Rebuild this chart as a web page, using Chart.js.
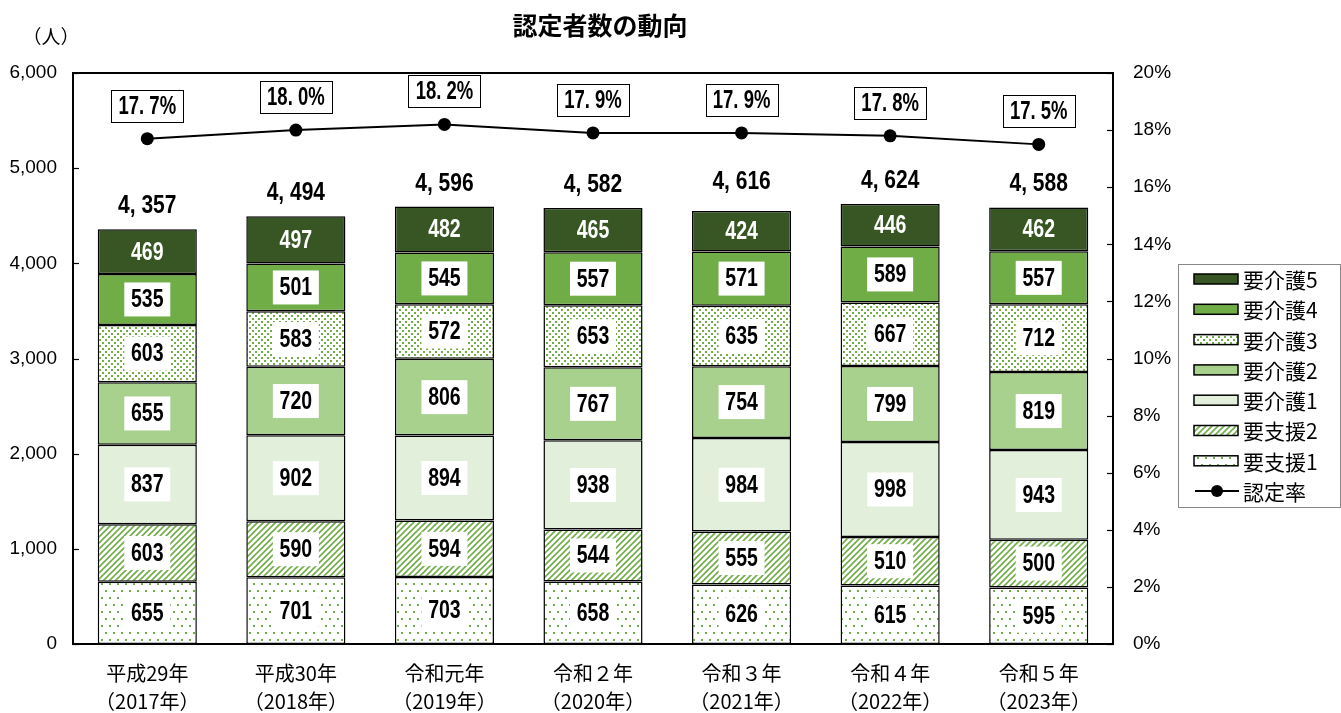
<!DOCTYPE html>
<html>
<head>
<meta charset="utf-8">
<script src="https://cdn.jsdelivr.net/npm/chart.js@4.4.1/dist/chart.umd.min.js"></script>
<style>
  html, body { margin: 0; padding: 0; background: #fff; }
  #wrap { width: 1341px; height: 713px; position: relative; }
</style>
</head>
<body>
<div id="wrap"><canvas id="chart"></canvas></div>
<script>
const eraLabels = ['平成29年', '平成30年', '令和元年', '令和２年', '令和３年', '令和４年', '令和５年'];
const yearLabels = ['（2017年）', '（2018年）', '（2019年）', '（2020年）', '（2021年）', '（2022年）', '（2023年）'];

const shien1 = [655, 701, 703, 658, 626, 615, 595];
const shien2 = [603, 590, 594, 544, 555, 510, 500];
const kaigo1 = [837, 902, 894, 938, 984, 998, 943];
const kaigo2 = [655, 720, 806, 767, 754, 799, 819];
const kaigo3 = [603, 583, 572, 653, 635, 667, 712];
const kaigo4 = [535, 501, 545, 557, 571, 589, 557];
const kaigo5 = [469, 497, 482, 465, 424, 446, 462];
const totals = [4357, 4494, 4596, 4582, 4616, 4624, 4588];
const rate = [17.7, 18.0, 18.2, 17.9, 17.9, 17.8, 17.5];

const leftTicks = [0, 1000, 2000, 3000, 4000, 5000, 6000];
const rightTicks = [0, 2, 4, 6, 8, 10, 12, 14, 16, 18, 20];

const GREEN = '#70AD47';
const JP = '"Noto Sans CJK JP", sans-serif';
const NUM = '"Liberation Sans", Arial, sans-serif';

function makePattern(kind) {
  const c = document.createElement('canvas');
  const g = c.getContext('2d');
  if (kind === 'dotsSparse') {
    c.width = 8; c.height = 14;
    g.fillStyle = '#fff'; g.fillRect(0, 0, 8, 14);
    g.fillStyle = GREEN;
    g.fillRect(1, 2, 2, 2);
    g.fillRect(5, 9, 2, 2);
  } else if (kind === 'dotsDense') {
    c.width = 6; c.height = 6;
    g.fillStyle = '#fff'; g.fillRect(0, 0, 6, 6);
    g.fillStyle = GREEN;
    g.fillRect(0, 0, 2, 2);
    g.fillRect(3, 3, 2, 2);
  } else {
    c.width = 6; c.height = 6;
    g.fillStyle = '#fff'; g.fillRect(0, 0, 6, 6);
    g.strokeStyle = GREEN; g.lineWidth = 1.6;
    g.beginPath();
    g.moveTo(-1, 7); g.lineTo(7, -1);
    g.moveTo(-1, 1); g.lineTo(1, -1);
    g.moveTo(5, 7); g.lineTo(7, 5);
    g.stroke();
  }
  return g.createPattern(c, 'repeat');
}

const barCommon = {
  type: 'bar',
  yAxisID: 'y',
  borderColor: '#000',
  borderWidth: 1.5,
  borderSkipped: false,
  barPercentage: 0.667,
  categoryPercentage: 1,
  order: 1,
};

const datasets = [
  { ...barCommon, label: '要支援1', data: shien1, backgroundColor: makePattern('dotsSparse') },
  { ...barCommon, label: '要支援2', data: shien2, backgroundColor: makePattern('hatch') },
  { ...barCommon, label: '要介護1', data: kaigo1, backgroundColor: '#E2EFDA' },
  { ...barCommon, label: '要介護2', data: kaigo2, backgroundColor: '#A9D18E' },
  { ...barCommon, label: '要介護3', data: kaigo3, backgroundColor: makePattern('dotsDense') },
  { ...barCommon, label: '要介護4', data: kaigo4, backgroundColor: GREEN },
  { ...barCommon, label: '要介護5', data: kaigo5, backgroundColor: '#375623' },
  {
    type: 'line', label: '認定率', data: rate, yAxisID: 'y1', order: 0,
    borderColor: '#000', backgroundColor: '#000', borderWidth: 2,
    pointRadius: 6.5, pointBackgroundColor: '#000', pointBorderWidth: 0, tension: 0,
  },
];

const fmtTotal = v => v.toLocaleString('en-US').replace(',', ', ');
const fmtRate = v => v.toFixed(1).replace('.', '. ') + '%';

// condensed bold numbers, like the original's narrow gothic digits
function narrowText(ctx, txt, x, y, size, color, sx) {
  ctx.save();
  ctx.translate(x, y);
  ctx.scale(sx || 0.72, 1);
  ctx.font = 'bold ' + size + 'px ' + NUM;
  ctx.fillStyle = color;
  ctx.textAlign = 'center';
  ctx.textBaseline = 'middle';
  ctx.fillText(txt, 0, 0);
  ctx.restore();
}

const decor = {
  id: 'decor',
  afterDatasetsDraw(chart) {
    const { ctx, chartArea: a, scales } = chart;
    ctx.save();
    ctx.strokeStyle = '#000'; ctx.lineWidth = 2;
    ctx.strokeRect(a.left, a.top, a.right - a.left, a.bottom - a.top);
    ctx.lineWidth = 1.2;
    leftTicks.forEach(t => {
      const y = Math.round(scales.y.getPixelForValue(t)) + 0.5;
      ctx.beginPath(); ctx.moveTo(a.left, y); ctx.lineTo(a.left + 6, y); ctx.stroke();
    });
    rightTicks.forEach(t => {
      const y = Math.round(scales.y1.getPixelForValue(t)) + 0.5;
      ctx.beginPath(); ctx.moveTo(a.right, y); ctx.lineTo(a.right - 6, y); ctx.stroke();
    });

    // segment labels
    for (let d = 0; d < 7; d++) {
      const meta = chart.getDatasetMeta(d);
      meta.data.forEach((bar, i) => {
        const cy = (bar.y + bar.base) / 2;
        const txt = String(datasets[d].data[i]);
        if (d === 6) {
          narrowText(ctx, txt, bar.x, cy + 1, 25, '#fff', 0.78);
        } else {
          ctx.fillStyle = '#fff';
          ctx.fillRect(bar.x - 23, cy - 17, 46, 34);
          narrowText(ctx, txt, bar.x, cy + 1, 25, '#000', 0.78);
        }
      });
    }

    // totals
    const m0 = chart.getDatasetMeta(0);
    totals.forEach((v, i) => {
      const x = m0.data[i].x;
      const y = scales.y.getPixelForValue(v) - 23;
      narrowText(ctx, fmtTotal(v), x, y, 25, '#000', 0.84);
    });

    // rate labels
    const ml = chart.getDatasetMeta(7);
    ml.data.forEach((pt, i) => {
      const cx = pt.x, cy = pt.y - 33;
      ctx.fillStyle = '#fff';
      ctx.fillRect(cx - 36, cy - 16, 72, 32);
      ctx.strokeStyle = '#000'; ctx.lineWidth = 1;
      ctx.strokeRect(Math.round(cx - 36) + 0.5, Math.round(cy - 16) + 0.5, 72, 32);
      narrowText(ctx, fmtRate(rate[i]), cx, cy + 1, 25, '#000', 0.74);
    });

    // title and unit
    ctx.fillStyle = '#000';
    ctx.textAlign = 'center'; ctx.textBaseline = 'middle';
    ctx.font = 'bold 25px ' + JP;
    ctx.fillText('認定者数の動向', 600, 25);
    ctx.font = '19px ' + JP;
    ctx.fillText('（人）', 51, 37);

    // legend
    const lx = 1178, ly = 264, lw = 162, lh = 243;
    ctx.strokeStyle = '#888'; ctx.lineWidth = 1;
    ctx.strokeRect(lx + 0.5, ly + 0.5, lw, lh);
    ctx.font = '21px ' + JP;
    ctx.textAlign = 'left';
    const order = [6, 5, 4, 3, 2, 1, 0, 7];
    order.forEach((d, k) => {
      const y = 279 + k * 30.3;
      const ds = datasets[d];
      if (d === 7) {
        ctx.strokeStyle = '#000'; ctx.lineWidth = 2;
        ctx.beginPath(); ctx.moveTo(1195, y); ctx.lineTo(1239, y); ctx.stroke();
        ctx.fillStyle = '#000';
        ctx.beginPath(); ctx.arc(1217, y, 6, 0, Math.PI * 2); ctx.fill();
      } else {
        ctx.fillStyle = ds.backgroundColor;
        ctx.fillRect(1194, y - 5, 44, 10);
        ctx.strokeStyle = '#000'; ctx.lineWidth = 1.5;
        ctx.strokeRect(1194, y - 5, 44, 10);
      }
      ctx.fillStyle = '#000';
      ctx.fillText(ds.label, 1243, y + 1);
    });
    ctx.restore();
  }
};

new Chart(document.getElementById('chart'), {
  data: { labels: eraLabels.map((e, i) => [e, yearLabels[i]]), datasets },
  options: {
    responsive: true,
    maintainAspectRatio: false,
    animation: false,
    layout: { padding: { top: 73, left: 0, right: 0, bottom: 0 } },
    scales: {
      x: {
        stacked: true,
        grid: { display: false },
        border: { display: false },
        ticks: { color: '#000', font: { family: JP, size: 20, lineHeight: 1.4 }, padding: 7, maxRotation: 0 },
        afterFit: s => { s.height = 69; },
      },
      y: {
        stacked: true, min: 0, max: 6000,
        grid: { display: false },
        border: { display: false },
        afterBuildTicks: s => { s.ticks = leftTicks.map(v => ({ value: v })); },
        ticks: { color: '#000', font: { family: NUM, size: 19 }, padding: 8,
          callback: v => v.toLocaleString('en-US') },
        afterFit: s => { s.width = 73; },
      },
      y1: {
        position: 'right', stacked: false, min: 0, max: 20,
        grid: { display: false },
        border: { display: false },
        afterBuildTicks: s => { s.ticks = rightTicks.map(v => ({ value: v })); },
        ticks: { color: '#000', font: { family: NUM, size: 19 }, padding: 12,
          callback: v => v + '%' },
        afterFit: s => { s.width = 228; },
      },
    },
    plugins: {
      legend: { display: false },
      tooltip: { enabled: false },
      title: { display: false },
    },
  },
  plugins: [decor],
});
</script>
</body>
</html>
